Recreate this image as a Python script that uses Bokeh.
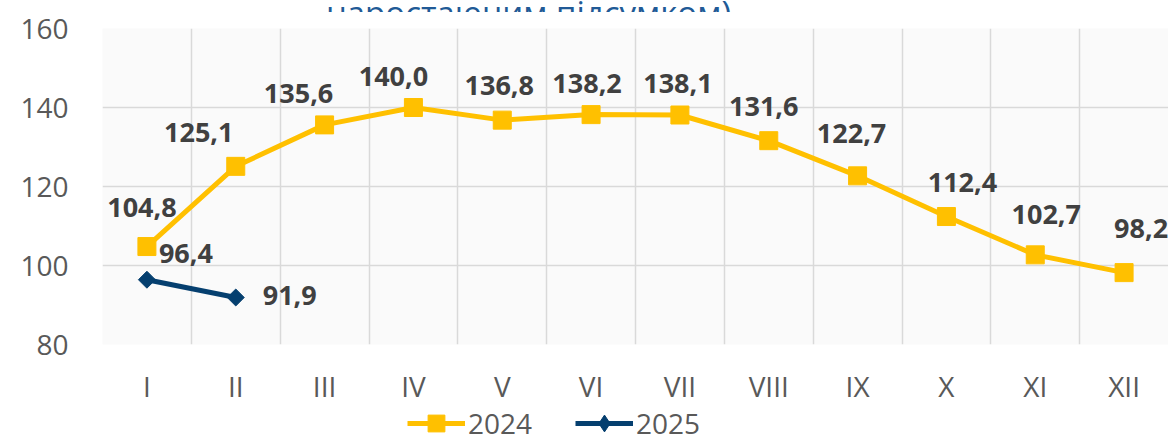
from bokeh.plotting import figure
from bokeh.models import (ColumnDataSource, FixedTicker, Legend, LegendItem, Label)
from bokeh.layouts import column
from bokeh.core.properties import value
from bokeh.embed import file_html
from bokeh.resources import INLINE
import math

# ---- data ----
months = ["I", "II", "III", "IV", "V", "VI", "VII", "VIII", "IX", "X", "XI", "XII"]
values_2024 = [104.8, 125.1, 135.6, 140.0, 136.8, 138.2, 138.1, 131.6, 122.7, 112.4, 102.7, 98.2]
values_2025 = [96.4, 91.9]
series_names = ["2024", "2025"]
title_text = "наростаючим підсумком)"
y_ticks = [80, 100, 120, 140, 160]

# label offsets (screen px, style only)
off_2024_x = [-5, -37, -26, -20, -3, -4, -2, -5, -6, 16, 11, 17]
off_2024_y = [-39, -34, -31, -31, -35, -31, -32, -34, -42, -34, -40, -44]
off_2025_x = [39, 54]
off_2025_y = [-26, -2]

FONT = "Open Sans"
C2024 = "#FFC000"
C2025 = "#053F6F"
GRID = "#D9D9D9"
AXTXT = "#595959"
LBL = "#404040"
W = 1168
LEFT = 102

def fmt(v):
    return f"{v:.1f}".replace(".", ",")

x24 = list(range(1, len(values_2024) + 1))
x25 = list(range(1, len(values_2025) + 1))

src24 = ColumnDataSource(dict(x=x24, y=values_2024, t=[fmt(v) for v in values_2024],
                              dx=off_2024_x, dy=off_2024_y))
src25 = ColumnDataSource(dict(x=x25, y=values_2025, t=[fmt(v) for v in values_2025],
                              dx=off_2025_x, dy=off_2025_y))

def strip(h):
    f = figure(width=W, height=h, x_range=(LEFT, W), y_range=(0, h),
               output_backend="svg", toolbar_location=None,
               x_axis_type=None, y_axis_type=None,
               min_border_left=LEFT, min_border_right=0, min_border_top=0, min_border_bottom=0)
    f.outline_line_color = None
    f.grid.visible = False
    return f

# ---- title strip (text cut at the top as in the reference) ----
tf = strip(12)
tf.add_layout(Label(x=528, y=0, text=title_text, text_font=FONT, text_font_size="33px",
                    text_color="#215A96", text_align="center", text_baseline="alphabetic"))

# ---- main chart ----
p = figure(width=W, height=395, x_range=(0.5, 12.5), y_range=(80, 160),
           output_backend="svg", toolbar_location=None,
           min_border_left=LEFT, min_border_right=0, min_border_top=16, min_border_bottom=63)
p.outline_line_color = None
p.background_fill_color = "#FAFAFA"
p.border_fill_color = "white"

p.ygrid.ticker = FixedTicker(ticks=y_ticks)
p.ygrid.grid_line_color = GRID
p.ygrid.grid_line_width = 1.5
p.xgrid.ticker = FixedTicker(ticks=[i + 0.5 for i in range(0, len(months) + 1)])
p.xgrid.grid_line_color = GRID
p.xgrid.grid_line_width = 1.5

p.yaxis.ticker = FixedTicker(ticks=y_ticks)
p.yaxis.axis_line_color = None
p.yaxis.major_tick_line_color = None
p.yaxis.minor_tick_line_color = None
p.yaxis.major_tick_out = 0
p.yaxis.major_label_standoff = 34
p.yaxis.major_label_text_font = FONT
p.yaxis.major_label_text_font_size = "28px"
p.yaxis.major_label_text_color = AXTXT

p.xaxis.ticker = FixedTicker(ticks=x24)
p.xaxis.major_label_overrides = {i + 1: m for i, m in enumerate(months)}
p.xaxis.axis_line_color = None
p.xaxis.major_tick_line_color = None
p.xaxis.minor_tick_line_color = None
p.xaxis.major_tick_out = 0
p.xaxis.major_label_standoff = 22
p.xaxis.major_label_text_font = FONT
p.xaxis.major_label_text_font_size = "28px"
p.xaxis.major_label_text_color = AXTXT

p.line("x", "y", source=src24, line_color=C2024, line_width=5)
p.scatter("x", "y", source=src24, marker="square", size=18, fill_color=C2024, line_color=C2024)
p.line("x", "y", source=src25, line_color=C2025, line_width=5)
p.scatter("x", "y", source=src25, marker="square", size=12, angle=math.pi / 4,
          fill_color=C2025, line_color=C2025)

for s in (src24, src25):
    p.text("x", "y", text="t", source=s, x_offset="dx", y_offset="dy",
           text_font=value(FONT), text_font_style="bold", text_font_size="27px",
           text_color=LBL, text_align="center", text_baseline="middle")

# ---- legend strip ----
lf = strip(29)
d = ColumnDataSource(dict(x=[-1000], y=[-1000]))
ll24 = lf.line("x", "y", source=d, line_color=C2024, line_width=5)
lm24 = lf.scatter("x", "y", source=d, marker="square", size=18, fill_color=C2024, line_color=C2024)
ll25 = lf.line("x", "y", source=d, line_color=C2025, line_width=5)
lm25 = lf.scatter("x", "y", source=d, marker="diamond", size=18,
                  fill_color=C2025, line_color=C2025)
legend = Legend(items=[LegendItem(label=series_names[0], renderers=[ll24, lm24]),
                       LegendItem(label=series_names[1], renderers=[ll25, lm25])],
                location=(305, -8), orientation="horizontal",
                padding=0, margin=0, spacing=43, label_standoff=3,
                glyph_width=58, glyph_height=42, label_height=42,
                label_text_font=FONT, label_text_font_size="28px", label_text_color=AXTXT,
                border_line_color=None, background_fill_alpha=0)
lf.add_layout(legend, "center")

layout = column(tf, p, lf, spacing=0)
open("out.html", "w").write(file_html(layout, INLINE))
